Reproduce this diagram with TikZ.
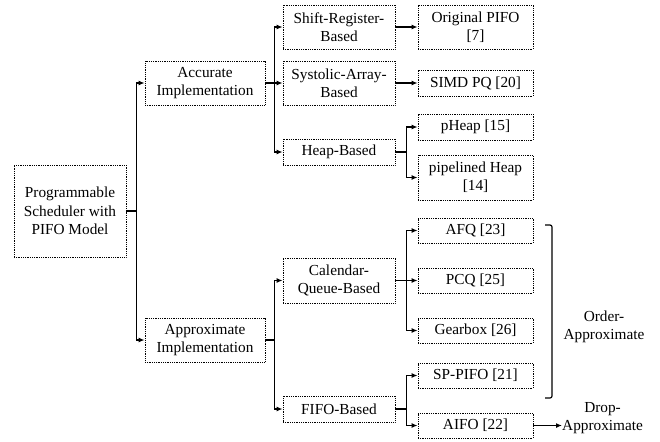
\documentclass[tikz,border=0pt]{standalone}
\usepackage{fontspec}
\setmainfont{Liberation Serif}
\newfontfamily\treefont{Liberation Serif}
\usetikzlibrary{arrows.meta}

\begin{document}
\begin{tikzpicture}[x=1pt,y=-1pt,>={Latex[length=6pt,width=5pt]},
  every node/.style={font=\treefont\fontsize{15.3}{18.3}\selectfont,align=center,inner sep=0pt},
  box node/.style={draw,line width=0.9pt,dash pattern=on 0.9pt off 0.9pt,minimum width=#1},
  box node/.default=112,
  leaf node/.style={box node=115},
  conn/.style={->,line width=1.3pt}]

  \useasboundingbox (0,0) rectangle (660,441);

  \node[box node,minimum height=92] (root) at (70,211) {Programmable\\Scheduler with\\PIFO Model};
  \node[box node=120,minimum height=44] (acc) at (205,83) {Accurate\\Implementation};
  \node[box node=120,minimum height=44] (appr) at (205,340) {Approximate\\Implementation};

  \node[box node,minimum height=44] (shift) at (339,27) {Shift-Register-\\Based};
  \node[box node,minimum height=44] (systolic) at (339,83) {Systolic-Array-\\Based};
  \node[box node,minimum height=26] (heap) at (339,152) {Heap-Based};
  \node[box node,minimum height=45] (calendar) at (339,280.5) {Calendar-\\Queue-Based};
  \node[box node,minimum height=26] (fifo) at (339,409) {FIFO-Based};

  \node[leaf node,minimum height=44] (orig) at (475.5,27) {Original PIFO\\{[7]}};
  \node[leaf node,minimum height=26] (simd) at (475.5,83) {SIMD PQ [20]};
  \node[leaf node,minimum height=26] (pheap) at (475.5,127) {pHeap [15]};
  \node[leaf node,minimum height=45] (pipe) at (475.5,177.5) {pipelined Heap\\{[14]}};
  \node[leaf node,minimum height=25] (afq) at (475.5,230.5) {AFQ [23]};
  \node[leaf node,minimum height=25] (pcq) at (475.5,280.5) {PCQ [25]};
  \node[leaf node,minimum height=25] (gear) at (475.5,330.5) {Gearbox [26]};
  \node[leaf node,minimum height=25] (sppifo) at (475.5,375.5) {SP-PIFO [21]};
  \node[leaf node,minimum height=25] (aifo) at (475.5,425.5) {AIFO [22]};

  \node (order) at (604,327) {Order-\\Approximate};
  \node[anchor=west] (drop) at (562,418) {Drop-\\Approximate};

  % tree connectors
  \draw[conn] (root.east) -- ++(10,0) |- (acc.west);
  \draw[conn] (root.east) -- ++(10,0) |- (appr.west);

  \draw[conn] (acc.east) -- ++(9,0) |- (shift.west);
  \draw[conn] (acc.east) -- ++(9,0) |- (systolic.west);
  \draw[conn] (acc.east) -- ++(9,0) |- (heap.west);
  \draw[conn] (appr.east) -- ++(9,0) |- (calendar.west);
  \draw[conn] (appr.east) -- ++(9,0) |- (fifo.west);

  \draw[conn] (shift) -- (orig);
  \draw[conn] (systolic) -- (simd);
  \draw[conn] (heap.east) -- ++(11,0) |- (pheap.west);
  \draw[conn] (heap.east) -- ++(11,0) |- (pipe.west);
  \draw[conn] (calendar.east) -- ++(11,0) |- (afq.west);
  \draw[conn] (calendar.east) -- ++(11,0) |- (pcq.west);
  \draw[conn] (calendar.east) -- ++(11,0) |- (gear.west);
  \draw[conn] (fifo.east) -- ++(11,0) |- (sppifo.west);
  \draw[conn] (fifo.east) -- ++(11,0) |- (aifo.west);

  % bracket and drop arrow
  \draw[line width=1.2pt,rounded corners=2pt] (545,225) -- (552,225) -- (552,398) -- (545,398);
  \draw[conn] (aifo.east) -- (aifo.east -| drop.west);
\end{tikzpicture}
\end{document}
